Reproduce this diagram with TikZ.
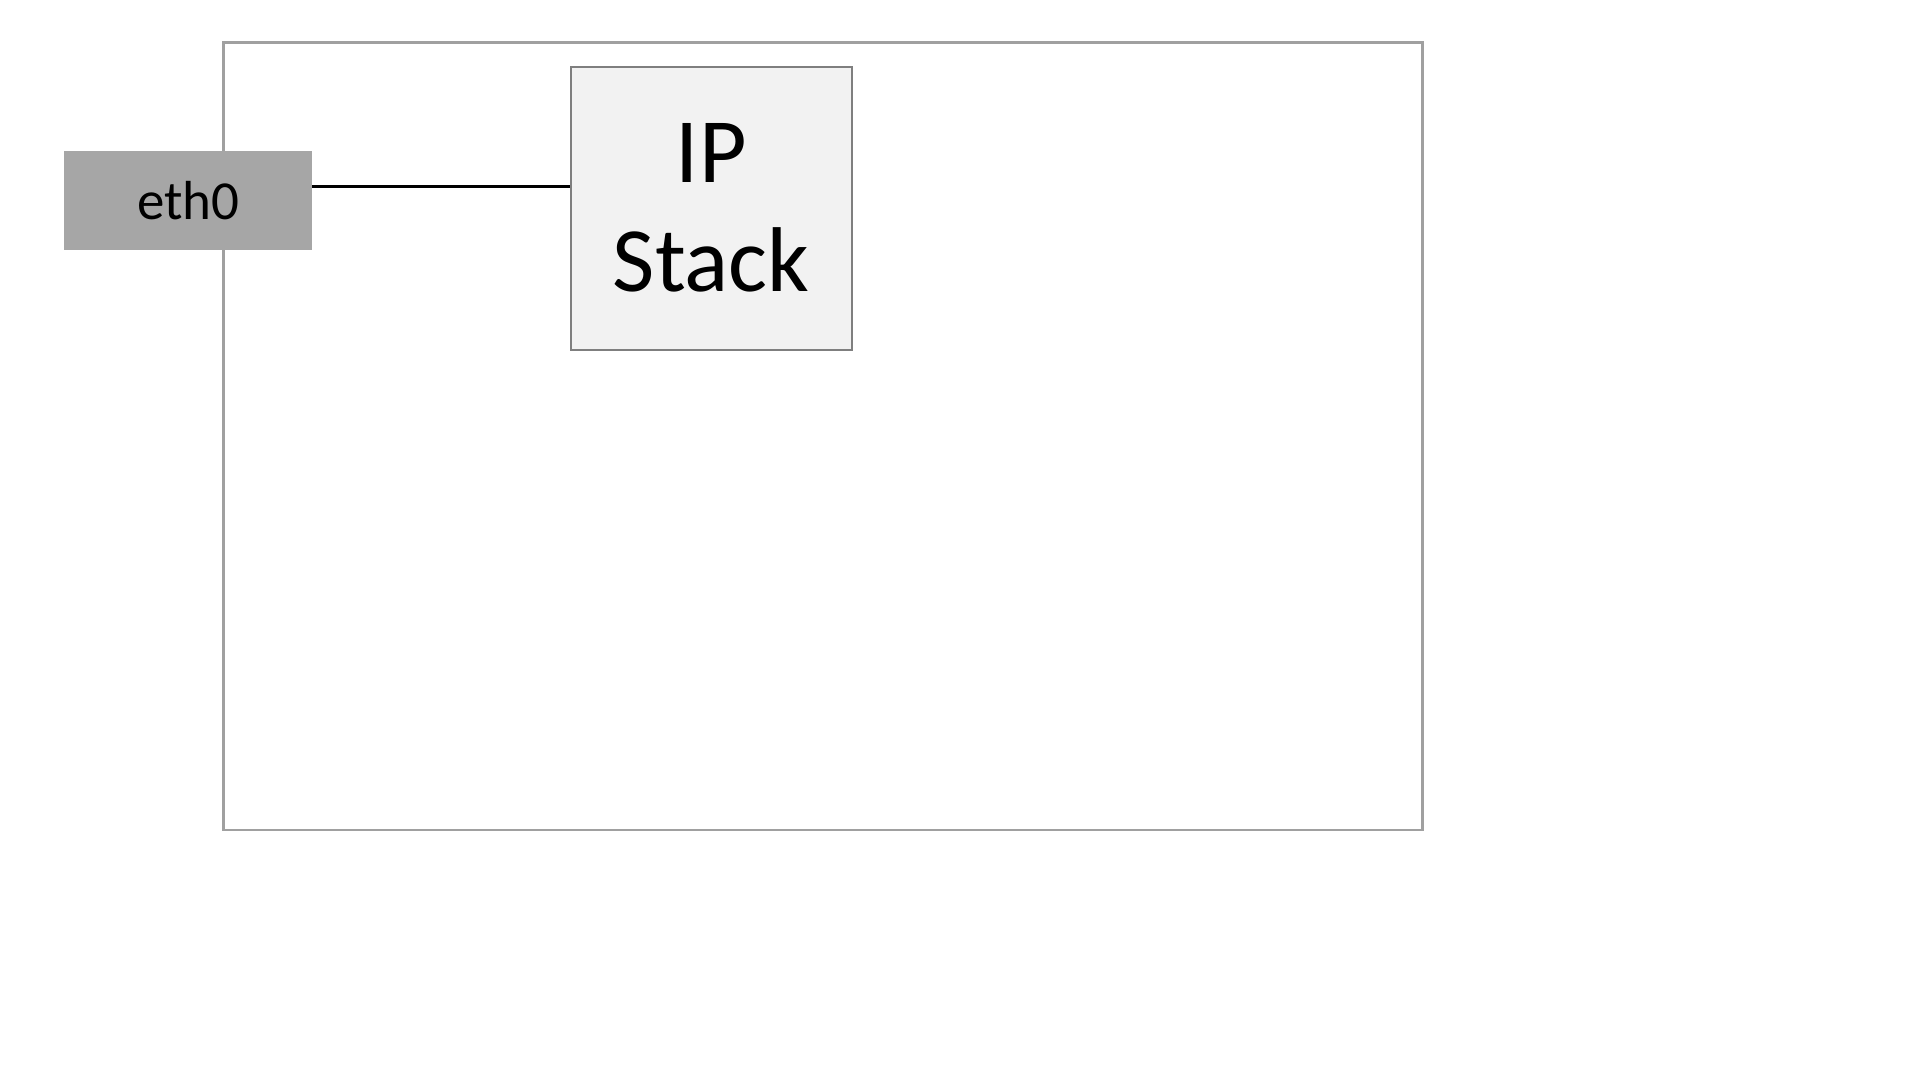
\documentclass[tikz,border=0pt]{standalone}
\usepackage{fontspec}
\setmainfont{Carlito}
\definecolor{framegray}{HTML}{A0A0A0}
\definecolor{ethfill}{HTML}{A6A6A6}
\definecolor{ipfill}{HTML}{F2F2F2}
\definecolor{ipborder}{HTML}{7F7F7F}
\begin{document}
\begin{tikzpicture}[x=1pt,y=-1pt,
  framebox/.style={draw=framegray,line width=2.5pt},
  ethbox/.style={fill=ethfill,draw=none,anchor=north west,inner sep=0pt,
    minimum width=248pt,minimum height=99pt,
    font=\fontsize{55}{66}\selectfont},
  ipbox/.style={fill=ipfill,draw=ipborder,line width=1.5pt,anchor=north west,inner sep=0pt,
    minimum width=281pt,minimum height=283pt,align=center,
    font=\fontsize{92}{109}\selectfont},
  link/.style={draw=black,line width=3pt}]
\useasboundingbox (0,0) rectangle (1920,1080);
\fill[white] (0,0) rectangle (1920,1080);
\draw[framebox] (223.5,42.5) rectangle (1422.5,830);
\node[ipbox] (ip) at (570,66) {IP\\Stack};
\node[ethbox] (eth) at (64,150.5) {eth0};
\coordinate (lvl) at (400,186);
\draw[link] (eth.east |- lvl) -- (ip.west |- lvl);
\end{tikzpicture}
\end{document}
